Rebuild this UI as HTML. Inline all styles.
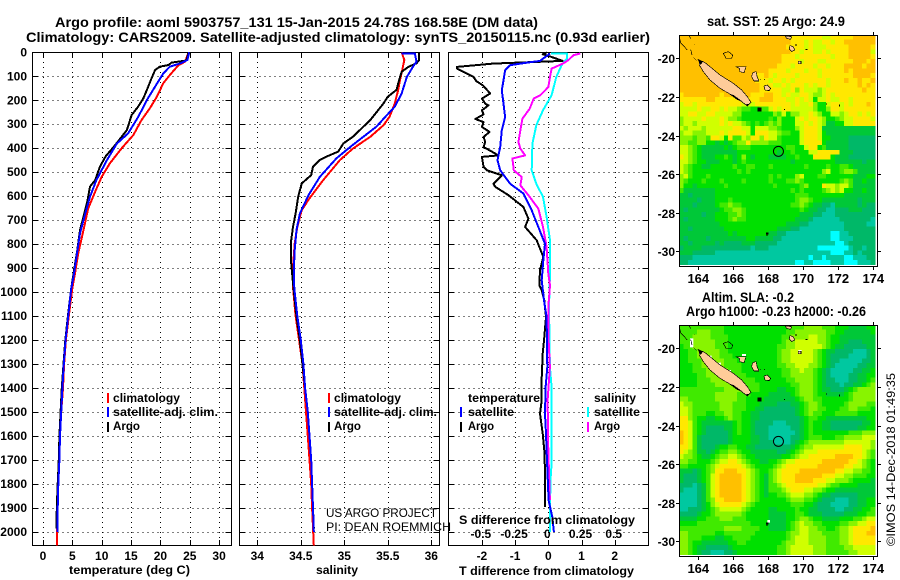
<!DOCTYPE html>
<html>
<head>
<meta charset="utf-8">
<title>Argo profile 5903757_131</title>
<style>
html,body{margin:0;padding:0;background:#fff;}
svg{display:block;}
text{font-family:"Liberation Sans",sans-serif;fill:#000;}
.b{font-weight:bold;font-size:12px;}
.t{font-weight:bold;font-size:14px;}
.r{font-size:12px;font-weight:normal;}
</style>
</head>
<body>
<svg id="chart" xmlns="http://www.w3.org/2000/svg" width="900" height="580" viewBox="0 0 900 580">
<rect x="0" y="0" width="900" height="580" fill="#fff"/>
<text class="t" x="55" y="27" textLength="483" lengthAdjust="spacingAndGlyphs">Argo profile: aoml 5903757_131 15-Jan-2015 24.78S 168.58E (DM data)</text>
<text class="t" x="26" y="42" textLength="624" lengthAdjust="spacingAndGlyphs">Climatology: CARS2009. Satellite-adjusted climatology: synTS_20150115.nc (0.93d earlier)</text>

<g id="grid-layer"></g>
<g id="series-layer"></g>

<text class="b" x="69" y="574" textLength="121" lengthAdjust="spacingAndGlyphs">temperature (deg C)</text>
<text class="b" x="316" y="574" textLength="42" lengthAdjust="spacingAndGlyphs">salinity</text>
<text class="b" x="459" y="575" textLength="175" lengthAdjust="spacingAndGlyphs">T difference from climatology</text>
<text class="b" x="459" y="524" textLength="176" lengthAdjust="spacingAndGlyphs">S difference from climatology</text>

<g>
<rect x="107" y="393" width="2" height="10" fill="#f00"/>
<rect x="107" y="407" width="2" height="10" fill="#00f"/>
<rect x="107" y="422" width="2" height="10" fill="#000"/>
<text class="b" x="113" y="402" textLength="67" lengthAdjust="spacingAndGlyphs">climatology</text>
<text class="b" x="113" y="416" textLength="105" lengthAdjust="spacingAndGlyphs">satellite-adj. clim.</text>
<text class="b" x="113" y="430" textLength="27" lengthAdjust="spacingAndGlyphs">Argo</text>
</g>
<g>
<rect x="328" y="393" width="2" height="10" fill="#f00"/>
<rect x="328" y="407" width="2" height="10" fill="#00f"/>
<rect x="328" y="422" width="2" height="10" fill="#000"/>
<text class="b" x="334" y="402" textLength="67" lengthAdjust="spacingAndGlyphs">climatology</text>
<text class="b" x="334" y="416" textLength="103" lengthAdjust="spacingAndGlyphs">satellite-adj. clim.</text>
<text class="b" x="334" y="430" textLength="27" lengthAdjust="spacingAndGlyphs">Argo</text>
<text class="r" x="326" y="517" textLength="111" lengthAdjust="spacingAndGlyphs">US ARGO PROJECT</text>
<text class="r" x="326" y="531" textLength="125" lengthAdjust="spacingAndGlyphs">PI: DEAN ROEMMICH</text>
</g>
<g>
<text class="b" x="468" y="402" textLength="72" lengthAdjust="spacingAndGlyphs">temperature</text>
<rect x="460" y="407" width="2" height="10" fill="#00f"/>
<text class="b" x="468" y="416" textLength="46" lengthAdjust="spacingAndGlyphs">satellite</text>
<rect x="460" y="422" width="2" height="10" fill="#000"/>
<text class="b" x="468" y="430" textLength="26" lengthAdjust="spacingAndGlyphs">Argo</text>
<text class="b" x="594" y="402" textLength="42" lengthAdjust="spacingAndGlyphs">salinity</text>
<rect x="587" y="407" width="2" height="10" fill="#0ff"/>
<text class="b" x="594" y="416" textLength="46" lengthAdjust="spacingAndGlyphs">satellite</text>
<rect x="587" y="422" width="2" height="10" fill="#f0f"/>
<text class="b" x="594" y="430" textLength="26" lengthAdjust="spacingAndGlyphs">Argo</text>
</g>

<g id="map-layer"></g>

<defs>
<g id="coast" transform="translate(660,0) scale(0.33333)" stroke="#000" stroke-width="2" stroke-linejoin="round" shape-rendering="crispEdges">
<path fill="#ffcc99" d="M118,180 L135,188 L150,200 L180,225 L220,250 L245,270 L262,290 L273,307 L262,318 L245,305 L220,288 L180,265 L150,240 L130,215 L118,195 Z"/>
<path fill="#000" stroke="none" d="M205,280 L222,286 L245,303 L232,300 Z M258,312 L268,312 L262,320 Z M112,176 L128,186 L122,195 Z"/>
<path fill="none" d="M58,112 L62,128 L82,150 M92,148 L96,165 M100,172 L110,182 M88,108 L92,115 M102,132 L104,134"/>
<path fill="none" d="M190,160 L205,155 L218,165 L215,175 L198,175 Z"/>
<path fill="#ffcc99" d="M228,200 L258,200 L252,218 L240,215 L238,205 Z"/>
<path fill="#ffcc99" d="M278,218 L288,215 L292,232 L297,243 L282,243 L275,230 Z"/>
<path fill="#ffcc99" d="M312,258 L322,255 L332,265 L328,272 L315,270 Z"/>
<path fill="none" d="M300,240 L303,237 M313,240 L315,237"/>
<path fill="#ffcc99" d="M376,108 L395,110 L392,118 L380,115 Z"/>
<path fill="#ffcc99" d="M390,137 L400,140 L405,150 L395,155 L388,147 Z"/>
<path fill="#ffcc99" d="M415,184 h8 v7 h-8 Z"/>
<path fill="#000" stroke="none" d="M405,133 h6 v4 h-6 Z M437,147 h6 v3 h-6 Z M293,323 h11 v11 h-11 Z M372,327 h3 v3 h-3 Z M498,310 h3 v3 h-3 Z M537,314 h3 v5 h-3 Z M318,697 h8 v6 h-3 v5 h-3 v-5 h-2 Z"/>
</g>
<g id="coast-white" transform="translate(660,0) scale(0.33333)" fill="#fff">
<path d="M90,145 h10 v27 h-10 Z M246,192 h12 v6 h-12 Z M238,205 h10 v10 h-10 Z M175,218 h8 v5 h-8 Z M205,240 h8 v5 h-8 Z M225,255 h6 v4 h-6 Z M415,180 h10 v5 h-10 Z M322,690 h8 v8 h-8 Z M150,197 h5 v6 h-5 Z"/>
</g>
</defs>

<text class="t" x="707" y="26" textLength="138" lengthAdjust="spacingAndGlyphs">sat. SST: 25 Argo: 24.9</text>
<text class="t" x="702" y="302" textLength="92" lengthAdjust="spacingAndGlyphs">Altim. SLA: -0.2</text>
<text class="t" x="686" y="316" textLength="180" lengthAdjust="spacingAndGlyphs">Argo h1000: -0.23 h2000: -0.26</text>
<text class="r" transform="translate(895,546) rotate(-90)" x="0" y="0" textLength="173" lengthAdjust="spacingAndGlyphs" font-size="13">©IMOS 14-Dec-2018 01:49:35</text>
</svg>

<script>
// ---------- chart data ----------
var depthTicks = [0,100,200,300,400,500,600,700,800,900,1000,1100,1200,1300,1400,1500,1600,1700,1800,1900,2000];
var tempTicks = [0,5,10,15,20,25,30];
var salTicks = [34,34.5,35,35.5,36];
var salTickLabels = ['34','34.5','35','35.5','36'];
var tDiffTicks = [-2,-1,0,1,2];
var sDiffTicks = [-0.5,-0.25,0,0.25,0.5];
var sDiffTickLabels = ['-0.5','-0.25','0','0.25','0.5'];

var argoTempDepth = [0,30,35,43,53,60,74,108,157,192,227,262,324,387,433,477,533,560,616,686,741,825,908,985,1100,1200,1300,1400,1500,1600,1700,1800,1900,1985];
var argoTemp = [24.8,24.5,24.2,21.9,21.4,19.9,19.1,18.5,17.7,17.1,16.2,15.1,14.3,12.3,10.7,9.7,8.9,8.0,7.6,6.9,6.3,5.85,5.3,4.8,4.25,3.8,3.5,3.2,3.0,2.8,2.7,2.5,2.35,2.3];
var climTempDepth = [0,39,53,95,129,185,234,282,345,400,463,519,581,651,741,839,922,985,1100,1200,1300,1400,1500,1600,1700,1800,1900,2000,2056];
var climTemp = [24.8,24.2,23.1,21.6,20.5,19.4,18.2,16.8,15.4,13.4,11.4,10,8.9,7.7,6.9,6.0,5.45,5.0,4.4,3.9,3.6,3.4,3.1,2.9,2.75,2.6,2.45,2.4,2.4];
var satTempDepth = [0,32,46,60,88,143,199,268,338,380,449,533,602,672,755,853,936,985,1100,1200,1300,1400,1500,1600,1700,1800,1900,2000];
var satTemp = [24.9,24.6,23.4,21.6,20.5,19.1,17.7,16.25,14.5,12.6,10.9,9.1,8,7.2,6.3,5.7,5.2,4.8,4.3,3.85,3.55,3.3,3.1,2.9,2.8,2.6,2.5,2.45];

var argoSalDepth = [0,32,46,60,81,116,157,185,213,241,282,317,352,380,414,431,449,477,512,547,602,672,728,783,880,963,1100,1200,1300,1400,1500,1600,1700,1800,1900,1985];
var argoSal = [35.86,35.86,35.83,35.74,35.66,35.63,35.6,35.5,35.45,35.39,35.3,35.2,35.1,34.99,34.93,34.82,34.72,34.64,34.62,34.51,34.47,34.44,34.41,34.39,34.39,34.41,34.45,34.49,34.52,34.55,34.58,34.6,34.62,34.63,34.64,34.65];
var climSalDepth = [0,32,67,116,157,213,269,304,352,401,449,532,609,658,728,797,894,979,1100,1200,1300,1400,1500,1600,1700,1800,1900,2056];
var climSal = [35.66,35.69,35.67,35.64,35.62,35.58,35.52,35.45,35.3,35.1,34.95,34.76,34.6,34.51,34.46,34.43,34.41,34.41,34.44,34.48,34.52,34.54,34.56,34.58,34.6,34.62,34.63,34.65];
var satSalDepth = [4,4,39,60,102,171,227,262,310,352,394,442,519,595,672,741,824,908,985,1100,1200,1300,1400,1500,1600,1700,1800,1900,2000];
var satSal = [35.66,35.81,35.83,35.79,35.72,35.66,35.58,35.49,35.37,35.22,35.07,34.91,34.72,34.59,34.49,34.45,34.43,34.42,34.425,34.46,34.5,34.53,34.55,34.58,34.6,34.62,34.63,34.64,34.65];

var argoDTDepth = [1,8,17,36,47,61,68,103,120,138,172,193,214,221,242,259,278,291,311,332,353,374,395,430,436,478,492,513,548,561,596,645,694,728,784,853,909,972,992,1034,1104,1201,1257,1357,1451,1507,1590,1674,1785,1896];
var argoDT = [-0.05,-0.17,0.05,0.43,-1.67,-2.75,-2.75,-2.25,-2.17,-1.97,-1.75,-2,-1.9,-1.8,-2,-1.95,-2.2,-1.95,-2,-1.77,-1.95,-1.9,-1.95,-1.5,-2,-1.95,-1.85,-1.4,-1.65,-1.6,-1.2,-0.75,-0.6,-0.7,-0.35,-0.15,-0.25,-0.27,-0.2,-0.12,-0.07,-0.13,-0.17,-0.2,-0.2,-0.25,-0.17,-0.11,-0.1,-0.1];
var satDTDepth = [5,36,44,54,75,117,158,214,270,325,395,450,492,548,589,659,728,798,867,951,1034,1104,1312,1396,1507,1590,1660,1868,1938,2000];
var satDT = [0.05,-0.25,-0.7,-1.15,-1.3,-1.35,-1.4,-1.35,-1.3,-1.4,-1.45,-1.53,-1.45,-1.15,-0.75,-0.5,-0.3,-0.1,-0.15,-0.2,-0.13,-0.05,-0.03,-0.08,-0.1,-0.07,-0.05,0.01,0.12,0.17];
var argoDSDepth = [5,12,33,47,68,103,145,179,193,235,277,325,374,402,430,443,492,520,555,596,652,728,812,923,972,1062,1173,1312,1452,1660,1868];
var argoDS = [0.24,0.19,0.15,0.11,0.025,0.0125,0,-0.06,-0.11,-0.14,-0.195,-0.21,-0.225,-0.21,-0.175,-0.27,-0.26,-0.2,-0.21,-0.15,-0.075,-0.04,-0.0125,0,0.0125,0,0,0.012,-0.005,0,0.012];
var satDSDepth = [5,5,26,54,103,179,242,304,381,492,548,603,687,784,923,1062,1173,1312,1396,1590,1715,1770,1896,2000];
var satDS = [0.02,0.14,0.14,0.1,0.06,0.025,-0.04,-0.09,-0.12,-0.125,-0.09,-0.04,-0.0125,0.0125,0.0125,0.005,0.008,0.012,0.025,0.025,0.025,0.018,0.012,0.012];

var mapLonTicks = [164,166,168,170,172,174];
var mapLatTicks = [-20,-22,-24,-26,-28,-30];
var argoLon = 168.58;
var argoLat = -24.78;
var gridOriginLon = 162.91;
var gridOriginLat = -18.79;
var gridStepLon = 0.2545;
var gridStepLat = 0.248;

var sstLevels = [
"9999999999 9999999999 9999988888 8877888889 9999",
"9999999999 9999999999 9999988878 7788788999 9999",
"9999999999 9999999999 9999888878 7778888899 9998",
"9999999999 9999999999 9999988788 7787888899 9997",
"9999999999 9999999999 9998887888 8888788899 9998",
"9999999999 9999999999 9998888788 8778888889 9989",
"9999999999 9999999999 9988878888 7887888999 9899",
"9999999999 9999999999 8888788878 8788888989 9999",
"9999999999 9999999889 8788887888 8788888889 9998",
"9999999999 9999999888 7887878888 8887888988 9889",
"9999999999 9999999988 8778788878 7887888888 9898",
"9999999999 9999999988 8887786877 7678888888 8988",
"8999999998 9999998889 9887877887 6678788888 8888",
"8888889988 8888888899 9888778787 4778778878 8888",
"7887888888 8888777888 8888878778 6447887878 8898",
"7777877887 8776554455 7878877777 6446887888 8888",
"7788778877 7766444444 4657466778 7644776788 7878",
"6777787778 7665444444 5464447878 8764456778 8887",
"6776777778 7877654545 6564447787 8763344778 8888",
"7677767777 7788774777 6654446788 8733333333 3333",
"6776667778 7888874888 7765544788 8743333333 3333",
"6665665887 4855768868 7754444788 8744333322 2222",
"6655664434 3456686666 5554444788 8843333322 2222",
"7765433333 4345554444 4444554478 8453333322 2222",
"7765433333 3334444444 4434454447 7888883332 2222",
"8765433344 5434643444 3333445444 8888433322 2222",
"7765443334 4434544444 4444434444 4444433333 3233",
"7654433444 4454455444 5444444454 4445445543 3333",
"7654444444 4445454444 4444444444 4467445665 3333",
"6754445444 4444444444 5454446744 4554444443 3344",
"6544454445 4444544444 5444556544 4444445653 3433",
"6443444444 5444444444 4544444564 4487767753 3333",
"5333333344 4444444444 4444454544 4456767443 3433",
"3323333344 4444444444 4444445554 4444444333 3333",
"3333233344 4544444444 4444445665 4433333333 2333",
"3332333345 5655444444 4444455654 3322133333 2322",
"3233333334 5566544444 4444444543 3221122233 3222",
"3333323344 4556544444 4444444333 2211122222 2222",
"3233333344 4565544444 4444443332 1111112222 2221",
"3333333334 4444444444 4444333221 1111111222 2211",
"3323333333 4444444444 4433322111 1111111222 2222",
"3333333333 3434444444 3322111111 1111001122 2222",
"3233332333 3333344333 3221111111 1111001112 2222",
"3323333323 2222333222 2211111111 1111100122 2222",
"2333322222 2222221222 1111111111 1000000012 2122",
"3332222211 1111111111 1111111111 1111000112 1222",
"2221111111 1111111111 1111111110 1101111001 1122",
"2211111111 1111111111 1111110011 0000111000 1112"
];

var slaLevels = [
"5555555555 4444444444 4444455566 6655544433 3344",
"5555666555 4444444444 4444556666 6665544333 3334",
"5556666555 5444444444 4445566667 7665443333 3333",
"5556666655 5444444444 4445667777 7665443322 2333",
"4556666655 5444444444 4455667777 7765433222 2233",
"4455666665 5444444444 4456677777 6543322221 1123",
"4455666665 5544444444 4456677777 6543222211 1123",
"4455566666 5554444444 4456677777 6543221111 1223",
"4445566666 5555444444 4455667776 6543211111 2233",
"4445556666 6555444444 4445566766 5432111112 2334",
"4444556666 6555544444 4445566666 5432111122 3344",
"4444555666 6655555444 4444556666 5432211122 3345",
"4444555566 6665555544 4444455666 5432221223 3456",
"5555555555 6666555544 4433445666 5433222345 6666",
"5555555566 6665554444 3333345666 5443333456 6666",
"6655555566 6665544443 3333334566 5544444456 6666",
"7665555556 6655544433 3322233456 6544444566 6655",
"7765555556 6655544332 2222223456 6554445566 5554",
"7765554455 6655443322 2222223456 5544455555 4444",
"8865443344 5655443322 2222222345 5443333333 3344",
"8875433333 3345443222 2111222345 4433222222 2334",
"8875432222 3345443222 1111122345 4433222222 3344",
"9875432222 2345443222 1111112345 4444444455 5666",
"9875322222 2344443322 1111122345 5544455666 6777",
"9875322222 2344443322 2111123456 6666666777 7776",
"8875322234 4554433222 2222234566 7777777888 8776",
"8765332345 5665443333 3322345677 7888888888 8765",
"7665433456 6776544333 3334456778 8888899998 8765",
"6655444567 7887654433 4456778888 8899999988 7654",
"5544445678 8888765444 4567888888 8999999887 7654",
"3332345688 9998876544 5678888999 9999988776 6554",
"3222345789 9999876543 5678889999 9988877665 5544",
"3222345789 9999876543 5678889999 8887766654 4443",
"2221235789 9999876543 5567888888 8776554444 3333",
"2111235789 9999876543 5556788877 6654433333 3333",
"1111235789 9999876543 4455677766 5433222222 3333",
"1111235688 9999876544 4444566655 4322211122 3344",
"1111234678 8888765444 4444455544 3222111122 3344",
"1122234567 7777654444 3344445443 3222211223 3445",
"2222344566 6666544444 3333445543 3322222333 4455",
"3333445556 6655544444 3333445665 4433334445 5677",
"4444555555 5555554444 3333456766 5544445566 7788",
"5555555555 6666555544 3333456776 6554456678 8889",
"6655555544 5555555444 4444566776 6655556678 8899",
"6655544433 4455554444 4444567776 6665556678 8888",
"6654433333 3445544444 4445667776 6665556678 8888",
"6654332222 2344444444 4455677777 6665555667 7777",
"6654322111 2234444444 4455677777 6665555566 7777"
];

// ---------- axes ----------
var NS = 'http://www.w3.org/2000/svg';
var plotTop = 52, plotBottom = 545;
var gridLayer = document.getElementById('grid-layer');
var seriesLayer = document.getElementById('series-layer');
var mapLayer = document.getElementById('map-layer');

function yDepth(d){ return 52.3 + d * 0.2398; }
function xTemp(t){ return 43 + t * 5.87; }
function xSal(s){ return 257.3 + (s - 34) * 87; }
function xDT(t){ return 548.3 + t * 33.2; }
function xDS(s){ return 548.3 + s * 132.8; }
function xLon(lon){ return 698.3 + (lon - 164) * 17.5; }
function yLat(lat){ return 58.3 + (-20 - lat) * 19.3; }

function node(tag, parent){
  var el = document.createElementNS(NS, tag);
  parent.appendChild(el);
  return el;
}
function put(el, key, val){ el.setAttribute(key, val); }

function drawPanel(left, right, xTicks, xFn, xLabels, labelY, name){
  var i, el;
  for (i = 0; i < depthTicks.length; i++) {
    var y = Math.round(yDepth(depthTicks[i])) + 0.5;
    if (depthTicks[i] > 0) {
      el = node('line', gridLayer);
      
      
      put(el,'x1',left); put(el,'x2',right); put(el,'y1',y); put(el,'y2',y);
      put(el,'stroke','#000'); put(el,'stroke-dasharray','1 4'); put(el,'shape-rendering','crispEdges');
      el = node('path', gridLayer);
      
      
      put(el,'d','M'+left+' '+y+'h6M'+right+' '+y+'h-6');
      put(el,'stroke','#000'); put(el,'shape-rendering','crispEdges');
    }
  }
  for (i = 0; i < xTicks.length; i++) {
    var x = Math.round(xFn(xTicks[i])) + 0.5;
    el = node('line', gridLayer);
    
    
    put(el,'x1',x); put(el,'x2',x); put(el,'y1',plotTop); put(el,'y2',plotBottom);
    put(el,'stroke','#000'); put(el,'stroke-dasharray','1 4'); put(el,'shape-rendering','crispEdges');
    el = node('path', gridLayer);
    
    
    put(el,'d','M'+x+' '+plotTop+'v5M'+x+' '+plotBottom+'v-5');
    put(el,'stroke','#000'); put(el,'shape-rendering','crispEdges');
    if (xLabels) {
      el = node('text', gridLayer);
      
      
      put(el,'class','b'); put(el,'x',xFn(xTicks[i])); put(el,'y',labelY); put(el,'text-anchor','middle');
      el.textContent = xLabels[i];
    }
  }
  el = node('rect', gridLayer);
  
  
  put(el,'x',left); put(el,'y',plotTop+0.5); put(el,'width',right-left); put(el,'height',plotBottom-plotTop);
  put(el,'fill','none'); put(el,'stroke','#000'); put(el,'stroke-width','1'); put(el,'shape-rendering','crispEdges');
}

function drawLine(values, depths, xFn, color, name){
  var pts = [];
  for (var i = 0; i < values.length; i++) {
    pts.push(xFn(values[i]).toFixed(1) + ',' + yDepth(depths[i]).toFixed(1));
  }
  var el = node('polyline', seriesLayer);
  
  
  put(el,'points',pts.join(' '));
  put(el,'fill','none'); put(el,'stroke',color); put(el,'stroke-width','2');
  put(el,'stroke-linejoin','round'); put(el,'shape-rendering','crispEdges');
}

function drawDepthLabels(){
  for (var i = 0; i < depthTicks.length; i++) {
    var el = node('text', gridLayer);
    
    
    put(el,'class','b'); put(el,'x',27); put(el,'y',yDepth(depthTicks[i]) + 4); put(el,'text-anchor','end');
    el.textContent = depthTicks[i];
  }
}

function levelColor(level){
  var colors = ['#00ffff','#00c8a0','#00b868','#00c838','#00e000','#40ea00','#88f400','#d0ff00','#ffe800','#ffc000'];
  return colors[level];
}

function drawMap(levels, offset, name, whiteBits){
  var r, c, el;
  var g = node('g', mapLayer);
  
  
  for (r = 0; r < levels.length; r++) {
    var row = levels[r].replace(/ /g, '');
    for (c = 0; c < row.length; c++) {
      var lon0 = gridOriginLon + c * gridStepLon;
      var lat0 = gridOriginLat - r * gridStepLat;
      el = node('rect', g);
      
      
      var x0 = xLon(lon0), x1 = xLon(lon0 + gridStepLon);
      var y0 = yLat(lat0) + offset, y1 = yLat(lat0 - gridStepLat) + offset;
      put(el,'x',x0.toFixed(2)); put(el,'y',y0.toFixed(2));
      put(el,'width',(x1 - x0 + 0.4).toFixed(2)); put(el,'height',(y1 - y0 + 0.4).toFixed(2));
      put(el,'fill',levelColor(+row.charAt(c))); put(el,'shape-rendering','crispEdges');
    }
  }
  if (whiteBits) {
    el = node('use', g);
    
    
    put(el,'href','#coast-white'); put(el,'y',offset);
  }
  el = node('use', g);
  
  
  put(el,'href','#coast'); put(el,'y',offset);

  el = node('circle', g);
  
  
  put(el,'cx',xLon(argoLon)); put(el,'cy',yLat(argoLat) + offset + 0.8); put(el,'r',5);
  put(el,'fill','none'); put(el,'stroke','#000'); put(el,'stroke-width','1');

  el = node('rect', g);
  
  
  put(el,'x',679.5); put(el,'y',35.5 + offset); put(el,'width',198); put(el,'height',231);
  put(el,'fill','none'); put(el,'stroke','#000'); put(el,'shape-rendering','crispEdges');

  for (c = 0; c < mapLonTicks.length; c++) {
    var tx = Math.round(xLon(mapLonTicks[c])) + 0.5;
    el = node('path', g);
    
    
    put(el,'d','M'+tx+' '+(35+offset)+'v-3M'+tx+' '+(267+offset)+'v3');
    put(el,'stroke','#000'); put(el,'shape-rendering','crispEdges');
    el = node('text', g);
    
    
    put(el,'x',xLon(mapLonTicks[c])); put(el,'y',283 + offset); put(el,'text-anchor','middle');
    put(el,'font-weight','bold'); put(el,'font-size','13');
    el.textContent = mapLonTicks[c];
  }
  for (r = 0; r < mapLatTicks.length; r++) {
    var ty = Math.round(yLat(mapLatTicks[r])) + 0.5 + offset;
    el = node('path', g);
    
    
    put(el,'d','M679 '+ty+'h-3M878 '+ty+'h3');
    put(el,'stroke','#000'); put(el,'shape-rendering','crispEdges');
    el = node('text', g);
    
    
    put(el,'class','b'); put(el,'x',675); put(el,'y',ty + 4.5); put(el,'text-anchor','end');
    el.textContent = mapLatTicks[r];
  }
}

// ---------- draw ----------
drawDepthLabels();
drawPanel(32.5, 231.5, tempTicks, xTemp, tempTicks, 560, 'temperature-panel');
drawPanel(239.5, 439.5, salTicks, xSal, salTickLabels, 560, 'salinity-panel');
drawPanel(448.5, 648.5, tDiffTicks, xDT, tDiffTicks, 560, 'difference-panel');

(function(){
  for (var i = 0; i < sDiffTicks.length; i++) {
    var el = node('text', gridLayer);
    
    
    put(el,'class','b'); put(el,'x',xDS(sDiffTicks[i]) - 1); put(el,'y',538); put(el,'text-anchor','middle');
    el.textContent = sDiffTickLabels[i];
  }
})();

drawLine(climTemp, climTempDepth, xTemp, '#ff0000', 'temperature-climatology-line');
drawLine(argoTemp, argoTempDepth, xTemp, '#000000', 'temperature-argo-line');
drawLine(satTemp, satTempDepth, xTemp, '#0000ff', 'temperature-satellite-line');
drawLine(climSal, climSalDepth, xSal, '#ff0000', 'salinity-climatology-line');
drawLine(argoSal, argoSalDepth, xSal, '#000000', 'salinity-argo-line');
drawLine(satSal, satSalDepth, xSal, '#0000ff', 'salinity-satellite-line');
drawLine(argoDT, argoDTDepth, xDT, '#000000', 't-difference-argo-line');
drawLine(satDS, satDSDepth, xDS, '#00ffff', 's-difference-satellite-line');
drawLine(argoDS, argoDSDepth, xDS, '#ff00ff', 's-difference-argo-line');
drawLine(satDT, satDTDepth, xDT, '#0000ff', 't-difference-satellite-line');

drawMap(sstLevels, 0, 'sst-map', false);
drawMap(slaLevels, 290, 'altimetry-map', true);
</script>
</body>
</html>
